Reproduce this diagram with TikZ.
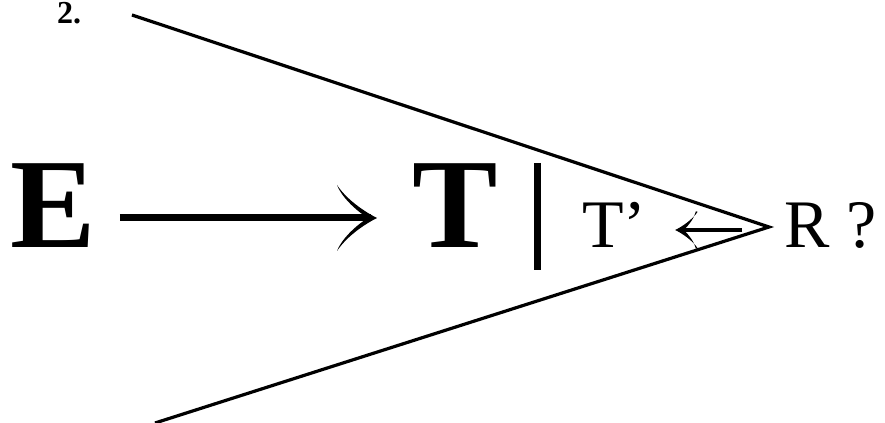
\documentclass[tikz,border=0pt]{standalone}
\usepackage{fontspec}
\setmainfont{Liberation Serif}
\begin{document}
\begin{tikzpicture}[x=0.75pt,y=-0.75pt,
  txt/.style={inner sep=0pt, outer sep=0pt, anchor=base west},
  bigfont/.style={font=\bfseries\fontsize{96}{96}\selectfont},
  midfont/.style={font=\fontsize{51}{51}\selectfont},
  numfont/.style={font=\bfseries\fontsize{24}{24}\selectfont},
  vline/.style={line width=2.4pt, line join=miter},
  bar/.style={line width=5.25pt},
  bigshaft/.style={line width=5.25pt},
  smallshaft/.style={line width=2.6pt},
  pics/rhead/.style={code={
    \fill (0,0) .. controls (-12,-6) and (-30,-18) .. (-40,-33)
      .. controls (-36,-22) and (-22,-8) .. (-9,0)
      .. controls (-22,8) and (-36,22) .. (-40,33)
      .. controls (-30,18) and (-12,6) .. (0,0) -- cycle;
  }},
  pics/lhead/.style={code={
    \fill (0,0) .. controls (-12,-6) and (-30,-18) .. (-40,-33)
      -- (-37,-34) .. controls (-34,-22) and (-25,-9) .. (-15,0)
      .. controls (-25,9) and (-34,22) .. (-37,34)
      -- (-40,33) .. controls (-30,18) and (-12,6) .. (0,0) -- cycle;
  }}
]
\useasboundingbox (0,0) rectangle (885,423);
\node[txt,numfont] (num) at (57,24) {2.};
\node[txt,bigfont] (E) at (10,248) {E};
\node[txt,bigfont] (T) at (412,248) {T};
\node[txt,midfont] (Tp) at (582,248) {T’};
\node[txt,midfont] (R) at (784,248) {R ?};
\draw[bar] (537.5,163) -- (537.5,270);

\coordinate (top) at (132,15);
\coordinate (apex) at (769,227);
\coordinate (bot) at (155,423);
\draw[vline] (top) -- (apex) -- (bot);

\coordinate (a1) at ([shift={(24.6,-30)}]E.base east);
\coordinate (a2) at ([shift={(-35,-30)}]T.base west);
\draw[bigshaft] (a1) -- ([xshift=-4.5pt]a2);
\pic at (a2) {rhead};

\coordinate (b1) at ([shift={(-42,-18)}]R.base west);
\coordinate (b2) at ([shift={(29,-18)}]Tp.base east);
\draw[smallshaft] (b1) -- ([xshift=3pt]b2);
\pic[xscale=-0.56,yscale=0.55] at (b2) {lhead};
\end{tikzpicture}
\end{document}
